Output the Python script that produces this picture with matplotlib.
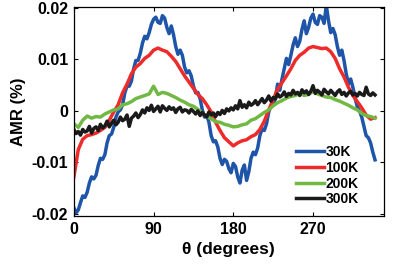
import numpy as np
import matplotlib
matplotlib.use('Agg')
import matplotlib.pyplot as plt

plt.rcParams['font.family'] = ['Liberation Sans', 'DejaVu Sans']
plt.rcParams['font.weight'] = 'bold'

# angle in degrees, AMR in %
theta = np.arange(0, 341, 5)
theta_fine = np.arange(0, 340.1, 2.5)

amr_30k = [-0.0188, -0.0198, -0.0192, -0.0178, -0.0165, -0.0168, -0.0158, -0.0140,
           -0.0128, -0.0132, -0.0125, -0.0106, -0.0092, -0.0094, -0.0085, -0.0062,
           -0.0048, -0.0045, -0.0032, -0.0012, -0.0002, 0.0002, 0.0012, 0.0035,
           0.0048, 0.0048, 0.0058, 0.0082, 0.0098, 0.0098, 0.0112, 0.0132,
           0.0145, 0.0140, 0.0152, 0.0168, 0.0178, 0.0182, 0.0172, 0.0170,
           0.0185, 0.0180, 0.0162, 0.0150, 0.0165, 0.0148, 0.0125, 0.0110,
           0.0118, 0.0108, 0.0085, 0.0074, 0.0078, 0.0068, 0.0048, 0.0035,
           0.0036, 0.0024, 0.0002, -0.0012, -0.0008, -0.0022, -0.0048, -0.0060,
           -0.0058, -0.0070, -0.0092, -0.0104, -0.0094, -0.0098, -0.0112, -0.0120,
           -0.0102, -0.0108, -0.0128, -0.0140, -0.0115, -0.0105, -0.0135, -0.0118,
           -0.0092, -0.0080, -0.0085, -0.0072, -0.0048, -0.0035, -0.0038, -0.0025,
           -0.0002, 0.0010, 0.0012, 0.0025, 0.0052, 0.0040, 0.0062, 0.0082,
           0.0102, 0.0090, 0.0108, 0.0128, 0.0142, 0.0125, 0.0135, 0.0158,
           0.0175, 0.0150, 0.0162, 0.0180, 0.0188, 0.0172, 0.0168, 0.0185,
           0.0182, 0.0170, 0.0205, 0.0175, 0.0152, 0.0160, 0.0148, 0.0125,
           0.0108, 0.0118, 0.0098, 0.0072, 0.0052, 0.0062, 0.0046, 0.0025,
           0.0008, 0.0000, -0.0012, -0.0030, -0.0048, -0.0052, -0.0062, -0.0080,
           -0.0095]

amr_100k = [-0.0128, -0.0075, -0.0055, -0.0048, -0.0046, -0.0043, -0.0038, -0.0032,
            -0.0018, -0.0002, 0.0012, 0.0035, 0.0052, 0.0072, 0.0085, 0.0092,
            0.0102, 0.0108, 0.0118, 0.0122, 0.0118, 0.0115, 0.0106, 0.0096,
            0.0082, 0.0068, 0.0056, 0.0044, 0.0032, 0.0024, 0.0012, -0.0002,
            -0.0022, -0.0038, -0.0052, -0.0060, -0.0068, -0.0062, -0.0058, -0.0056,
            -0.0050, -0.0046, -0.0036, -0.0020, 0.0002, 0.0022, 0.0042, 0.0055,
            0.0068, 0.0082, 0.0098, 0.0108, 0.0114, 0.0122, 0.0125, 0.0123,
            0.0121, 0.0122, 0.0115, 0.0102, 0.0082, 0.0066, 0.0046, 0.0030,
            0.0018, 0.0006, -0.0008, -0.0016, -0.0013]

amr_200k = [-0.0025, -0.0032, -0.0018, -0.0010, -0.0014, -0.0011, -0.0012, -0.0006,
            -0.0002, 0.0002, 0.0004, 0.0012, 0.0014, 0.0018, 0.0024, 0.0027,
            0.0030, 0.0033, 0.0048, 0.0032, 0.0036, 0.0034, 0.0030, 0.0026,
            0.0021, 0.0017, 0.0012, 0.0009, 0.0003, -0.0004, -0.0011, -0.0015,
            -0.0021, -0.0022, -0.0026, -0.0028, -0.0031, -0.0030, -0.0027, -0.0025,
            -0.0018, -0.0015, -0.0009, -0.0003, 0.0002, 0.0010, 0.0016, 0.0020,
            0.0025, 0.0028, 0.0030, 0.0034, 0.0030, 0.0032, 0.0038, 0.0033,
            0.0030, 0.0027, 0.0026, 0.0022, 0.0019, 0.0015, 0.0011, 0.0006,
            0.0002, -0.0005, -0.0009, -0.0011, -0.0014]

amr_300k = [-0.0036, -0.0044, -0.0040, -0.0047, -0.0036, -0.0041, -0.0039, -0.0030,
            -0.0043, -0.0034, -0.0031, -0.0038, -0.0026, -0.0033, -0.0029, -0.0020,
            -0.0031, -0.0024, -0.0018, -0.0027, -0.0022, -0.0012, -0.0019, -0.0016,
            -0.0008, -0.0030, -0.0014, -0.0010, -0.0004, -0.0013, -0.0007, 0.0002,
            -0.0004, 0.0006, 0.0001, 0.0011, -0.0001, 0.0004, 0.0009, -0.0002,
            0.0010, 0.0005, 0.0001, 0.0008, 0.0003, 0.0006, -0.0003, 0.0004,
            0.0007, -0.0002, 0.0002, 0.0001, -0.0004, 0.0003, -0.0001, -0.0006,
            0.0000, -0.0009, -0.0003, -0.0008, -0.0012, -0.0002, -0.0008, -0.0004,
            -0.0011, -0.0003, -0.0007, 0.0001, -0.0005, 0.0004, 0.0000, 0.0006,
            0.0002, 0.0010, 0.0004, 0.0020, 0.0007, 0.0012, 0.0006, 0.0017,
            0.0011, 0.0014, 0.0020, 0.0012, 0.0018, 0.0024, 0.0016, 0.0021,
            0.0029, 0.0019, 0.0026, 0.0023, 0.0033, 0.0027, 0.0030, 0.0037,
            0.0028, 0.0034, 0.0031, 0.0040, 0.0033, 0.0036, 0.0030, 0.0041,
            0.0035, 0.0039, 0.0032, 0.0038, 0.0049, 0.0034, 0.0040, 0.0036,
            0.0031, 0.0042, 0.0037, 0.0033, 0.0040, 0.0035, 0.0030, 0.0037,
            0.0041, 0.0032, 0.0036, 0.0029, 0.0035, 0.0038, 0.0031, 0.0034,
            0.0029, 0.0036, 0.0032, 0.0030, 0.0046, 0.0033, 0.0030, 0.0035,
            0.0031]

labels = ['30K', '100K', '200K', '300K']
colors = ['#1f55a8', '#ee2b2b', '#72b845', '#1a1a1a']
xticks = [0, 90, 180, 270]
yticks = [-0.02, -0.01, 0, 0.01, 0.02]
yticklabels = ['-0.02', '-0.01', '0', '0.01', '0.02']

fig = plt.figure(figsize=(4.15, 2.65), dpi=100)
ax = fig.add_axes([0.178, 0.185, 0.747, 0.789])

series = [(theta_fine, amr_30k), (theta, amr_100k), (theta, amr_200k), (theta_fine, amr_300k)]
for (x, y), c, lab in zip(series, colors, labels):
    ax.plot(x, y, color=c, lw=2.5, label=lab)

ax.set_xlim(0, 350)
ax.set_ylim(-0.0204, 0.0202)
ax.set_xticks(xticks)
ax.set_xticklabels([str(t) for t in xticks])
ax.set_yticks(yticks)
ax.set_yticklabels(yticklabels)
ax.tick_params(direction='in', top=True, right=True, length=3, width=0.8,
               labelsize=11.5, pad=4)
for s in ax.spines.values():
    s.set_linewidth(0.9)

ax.set_xlabel('θ (degrees)', fontsize=12.5, fontweight='bold', labelpad=4)
ax.set_ylabel('AMR (%)', fontsize=12, fontweight='bold', labelpad=4)

leg = ax.legend(loc='lower right', bbox_to_anchor=(0.95, 0.0), frameon=False,
                fontsize=10, handlelength=2.0, handletextpad=0.1,
                labelspacing=0.12, borderaxespad=0.3)
for t in leg.get_texts():
    t.set_fontweight('bold')

fig.savefig('out.png', dpi=100)
